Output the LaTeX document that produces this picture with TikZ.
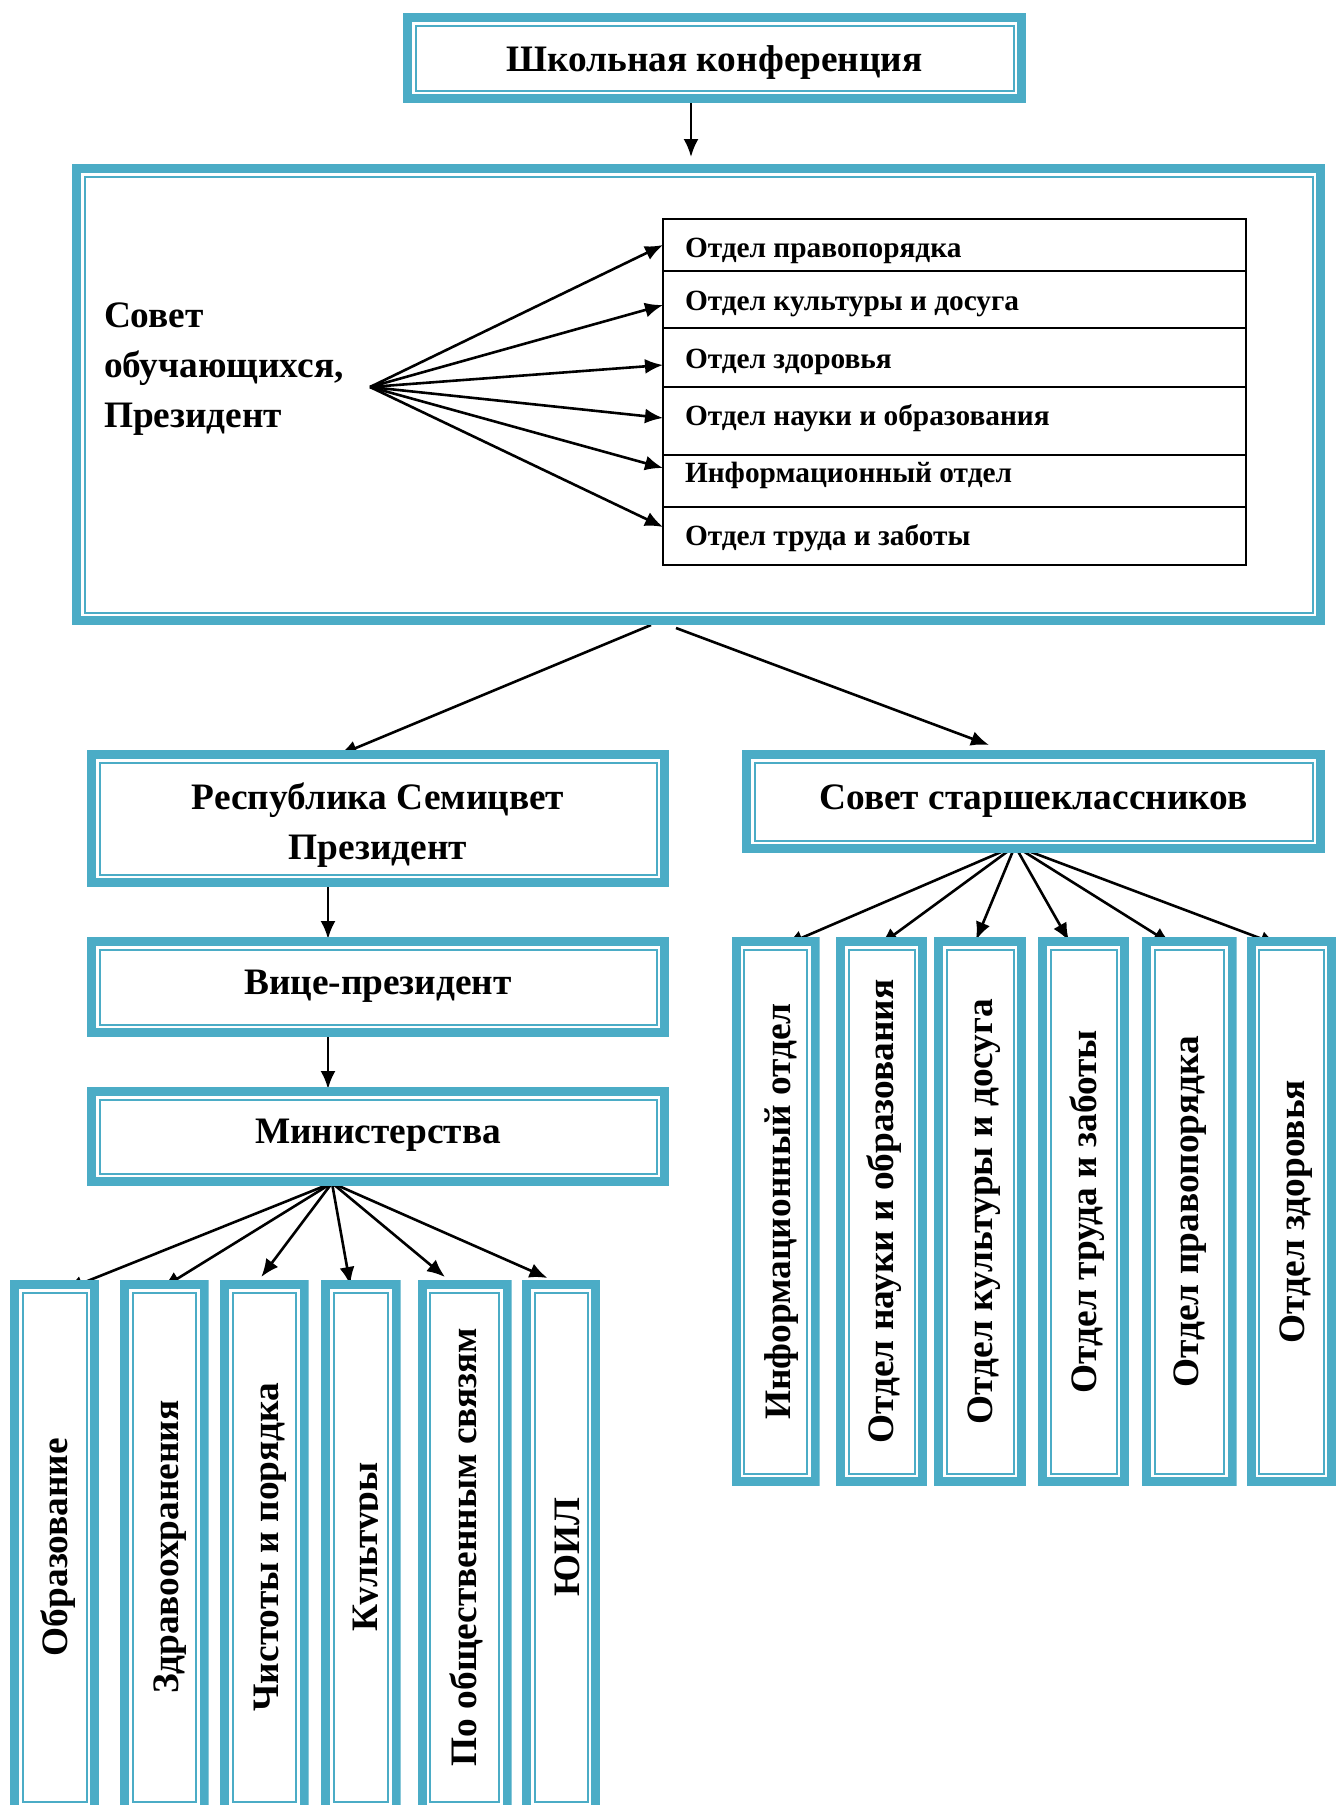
\documentclass[tikz,border=0pt]{standalone}
\usepackage{fontspec}
\setmainfont{Liberation Serif}
\usepackage{graphicx}
\usetikzlibrary{arrows.meta,calc}
\definecolor{tealb}{RGB}{75,172,198}
\pgfdeclarelayer{bg}
\pgfsetlayers{bg,main}
\newcommand\txtb[2]{\raisebox{#1}[0pt][0pt]{#2}}
\newcommand\vtxt[2]{\rotatebox{90}{\raisebox{#1}[0pt][0pt]{#2}}}
\tikzset{
 dbox/.style={rectangle, fill=white, inner sep=0pt, outer sep=0pt,
   font=\fontsize{18.67}{24}\selectfont\bfseries,
   path picture={
     \draw[tealb, line width=4.5pt] ([xshift=2.25pt,yshift=-2.25pt]path picture bounding box.north west) rectangle ([xshift=-2.25pt,yshift=2.25pt]path picture bounding box.south east);
     \draw[tealb, line width=1pt] ([xshift=6.25pt,yshift=-6.25pt]path picture bounding box.north west) rectangle ([xshift=-6.25pt,yshift=6.25pt]path picture bounding box.south east);
   }},
 listrow/.style={rectangle, draw=black, line width=1pt, inner sep=0pt, outer sep=0pt, minimum width=291.5pt, font=\fontsize{14.67}{18}\selectfont\bfseries},
 arr/.style={-{Latex[length=9pt,width=7.5pt]}, line width=1.3pt, black},
 vbox/.style={dbox, minimum height=274.5pt},
 mbox/.style={dbox, minimum height=267pt},
}
\begin{document}
\begin{tikzpicture}[x=0.5pt,y=-0.5pt]
\useasboundingbox (0,0) rectangle (1338,1805);
\clip (0,0) rectangle (1338,1805);

% top
\node[dbox, minimum width=311.5pt, minimum height=45pt] (conf) at (714.5,58) {\txtb{-6.7pt}{Школьная конференция}};
\node[dbox, minimum width=626.5pt, minimum height=230.5pt] (council) at (698.5,394.5) {};
\draw[arr] ($(conf.south)+(-23.5,0)$) -- ($(council.north)+(-7.5,-7)$);

\node[inner sep=0pt, outer sep=0pt, anchor=west, font=\fontsize{18.67}{25}\selectfont\bfseries] (sovet) at (104,327)
  {\txtb{0pt}{\begin{tabular}[t]{@{}l@{}}Совет\\обучающихся,\\Президент\end{tabular}}};
\coordinate (hub1) at (370,387);

\node[listrow, minimum height=26pt]   (r1) at (954.5,245)   {\txtb{-6pt}{\makebox[290pt][l]{\hspace{10.25pt}Отдел правопорядка}}};
\node[listrow, minimum height=28.5pt] (r2) at (954.5,299.5) {\txtb{-5.25pt}{\makebox[290pt][l]{\hspace{10.25pt}Отдел культуры и досуга}}};
\node[listrow, minimum height=29.5pt] (r3) at (954.5,357.5) {\txtb{-5.25pt}{\makebox[290pt][l]{\hspace{10.25pt}Отдел здоровья}}};
\node[listrow, minimum height=34pt]   (r4) at (954.5,421)   {\txtb{-2pt}{\makebox[290pt][l]{\hspace{10.25pt}Отдел науки и образования}}};
\node[listrow, minimum height=26pt]   (r5) at (954.5,481)   {\txtb{-0.75pt}{\makebox[290pt][l]{\hspace{10.25pt}Информационный отдел}}};
\node[listrow, minimum height=29pt]   (r6) at (954.5,536)   {\txtb{-4.5pt}{\makebox[290pt][l]{\hspace{10.25pt}Отдел труда и заботы}}};

\draw[arr] (hub1) -- ($(r1.west)+(0,0)$);
\draw[arr] (hub1) -- ($(r2.west)+(0,5.5)$);
\draw[arr] (hub1) -- ($(r3.west)+(0,7.5)$);
\draw[arr] (hub1) -- ($(r4.west)+(0,-3)$);
\draw[arr] (hub1) -- ($(r5.west)+(0,-13)$);
\draw[arr] (hub1) -- ($(r6.west)+(0,-9)$);

% second level
\node[dbox, minimum width=291pt, minimum height=68.5pt, font=\fontsize{18.67}{24.7}\selectfont\bfseries] (rep) at (378,818.5)
  {\txtb{4.4pt}{\begin{tabular}[t]{@{}c@{}}Республика Семицвет\\Президент\end{tabular}}};
\node[dbox, minimum width=291pt, minimum height=50pt] (vice) at (378,987) {\txtb{-3.5pt}{Вице-президент}};
\node[dbox, minimum width=291pt, minimum height=49.5pt] (min) at (378,1136.5) {\txtb{-3.5pt}{Министерства}};
\node[dbox, minimum width=291.5pt, minimum height=51.5pt] (sen) at (1033.5,801.5) {\txtb{-4pt}{Совет старшеклассников}};

% senior council departments
\node[vbox, minimum width=44pt]   (d1) at (775.5,1211.5)  {\vtxt{-7.5pt}{Информационный отдел}};
\node[vbox, minimum width=45.5pt] (d2) at (881.5,1211.5)  {\vtxt{-6pt}{Отдел науки и образования}};
\node[vbox, minimum width=46pt]   (d3) at (980,1211.5)    {\vtxt{-6pt}{Отдел культуры и досуга}};
\node[vbox, minimum width=45.5pt] (d4) at (1083.5,1211.5) {\vtxt{-6.5pt}{Отдел труда и заботы}};
\node[vbox, minimum width=47.25pt](d5) at (1189.25,1211.5){\vtxt{-4.75pt}{Отдел правопорядка}};
\node[vbox, minimum width=44.75pt](d6) at (1291.25,1211.5){\vtxt{-6.5pt}{Отдел здоровья}};

% ministries
\node[mbox, minimum width=44.5pt]  (m1) at (54.5,1547)   {\vtxt{-6.5pt}{Образование}};
\node[mbox, minimum width=44.25pt] (m2) at (164.25,1547) {\vtxt{-7pt}{Здравоохранения}};
\node[mbox, minimum width=44.25pt] (m3) at (264.25,1547) {\vtxt{-7.25pt}{Чистоты и порядка}};
\node[mbox, minimum width=39.75pt] (m4) at (360.75,1547) {\vtxt{-8.5pt}{Культуры}};
\node[mbox, minimum width=47pt]    (m5) at (464.5,1547)  {\vtxt{-6pt}{По общественным связям}};
\node[mbox, minimum width=39pt]    (m6) at (561,1547)    {\vtxt{-9pt}{ЮИЛ}};
\fill[white] ($(m4.center)+(17.5,-170)$) rectangle ($(m4.center)+(25.5,170)$);

\coordinate (hub2) at (1015,846);
\coordinate (hub3) at (332,1183);

\begin{pgfonlayer}{bg}
\draw[arr] ($(council.south)+(-47.5,0)$) -- ($(rep.north)+(-39,5)$);
\draw[arr] ($(council.south)+(-22.5,3)$) -- ($(sen.north)+(-44.5,-5)$);
\draw[arr] ($(rep.south)+(-50,0)$) -- ($(vice.north)+(-50,2)$);
\draw[arr] ($(vice.south)+(-50,0)$) -- ($(min.north)+(-50,2)$);
\draw[arr] (hub2) -- ($(d1.north)+(9.5,8)$);
\draw[arr] (hub2) -- ($(d2.north)+(-1.5,8)$);
\draw[arr] (hub2) -- ($(d3.north)+(-4,3)$);
\draw[arr] (hub2) -- ($(d4.north)+(-14.5,4)$);
\draw[arr] (hub2) -- ($(d5.north)+(-18,7)$);
\draw[arr] (hub2) -- ($(d6.north)+(-13,8)$);
\draw[arr] (hub3) -- ($(m1.north)+(10.5,10)$);
\draw[arr] (hub3) -- ($(m2.north)+(-2,8)$);
\draw[arr] (hub3) -- ($(m3.north)+(-3,-3)$);
\draw[arr] (hub3) -- ($(m4.north)+(-10.5,5)$);
\draw[arr] (hub3) -- ($(m5.north)+(-19.5,-3)$);
\draw[arr] (hub3) -- ($(m6.north)+(-13.5,-2)$);
\end{pgfonlayer}
\end{tikzpicture}
\end{document}
